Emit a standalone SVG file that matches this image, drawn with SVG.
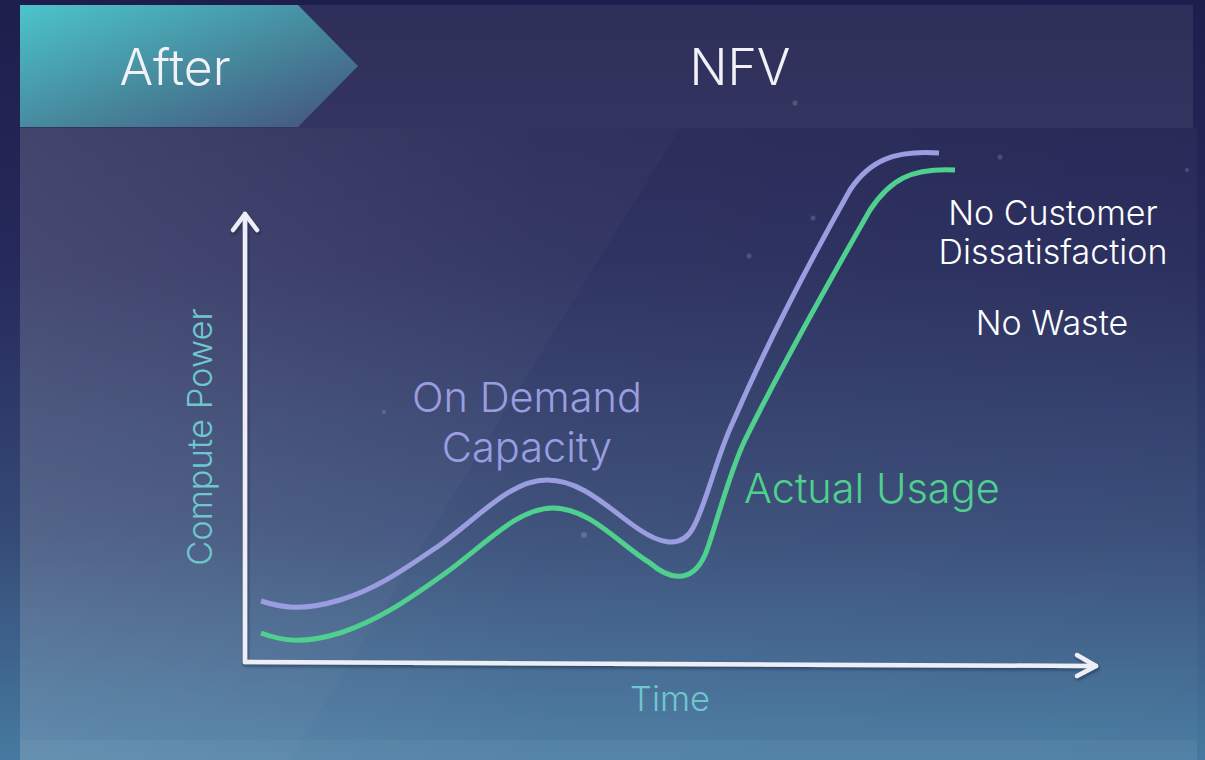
<svg xmlns="http://www.w3.org/2000/svg" width="1205" height="760" viewBox="0 0 1205 760">
  <defs>
    <linearGradient id="bg" x1="0" y1="0" x2="0" y2="1">
      <stop offset="0" stop-color="#1d1e4c"/>
      <stop offset="0.35" stop-color="#262a5a"/>
      <stop offset="0.7" stop-color="#354a76"/>
      <stop offset="1" stop-color="#467aa0"/>
    </linearGradient>
    <linearGradient id="panelSheen" x1="0" y1="0" x2="1" y2="0">
      <stop offset="0" stop-color="#ffffff" stop-opacity="0.13"/>
      <stop offset="0.45" stop-color="#ffffff" stop-opacity="0.05"/>
      <stop offset="1" stop-color="#ffffff" stop-opacity="0.03"/>
    </linearGradient>
    <linearGradient id="tabFill" x1="0" y1="0" x2="1" y2="1">
      <stop offset="0" stop-color="#4cc4cb"/>
      <stop offset="0.55" stop-color="#46869b"/>
      <stop offset="1" stop-color="#44527b"/>
    </linearGradient>
    <filter id="soft" x="-10%" y="-10%" width="120%" height="120%">
      <feDropShadow dx="1" dy="2" stdDeviation="1.5" flood-color="#10122e" flood-opacity="0.45"/>
    </filter>
    <style>
      .lbl { font-family: Inter, "Liberation Sans", sans-serif; font-weight: 300; }
      .head { fill: #f1f1f7; font-size: 50px; }
      .axis { fill: none; stroke: #eeeef6; stroke-width: 4.5; stroke-linecap: round; stroke-linejoin: round; }
      .axisLbl { fill: #6ec7cd; font-size: 34.5px; }
      .note { fill: #ffffff; font-size: 34px; }
      .big { font-size: 41.5px; }
      .cap { fill: none; stroke: #9a9de0; stroke-width: 5; stroke-linecap: butt; }
      .use { fill: none; stroke: #4fd08e; stroke-width: 5; stroke-linecap: butt; }
    </style>
  </defs>

  <!-- backdrop -->
  <rect x="0" y="0" width="1205" height="760" fill="url(#bg)"/>
  <rect x="20" y="128" width="1177" height="632" fill="url(#panelSheen)"/>
  <polygon points="20,128 680,128 290,760 20,760" fill="#ffffff" opacity="0.025"/>
  <rect x="20" y="740" width="1177" height="20" fill="#ffffff" opacity="0.04"/>
  <rect x="20" y="5" width="1173" height="123" fill="#ffffff" opacity="0.08"/>

  <!-- faint stars -->
  <g fill="#ffffff" opacity="0.16">
    <circle cx="795" cy="103" r="2.5"/>
    <circle cx="1000" cy="157" r="2.5"/>
    <circle cx="813" cy="218" r="2.5"/>
    <circle cx="749" cy="256" r="2.5"/>
    <circle cx="584" cy="535" r="3"/>
    <circle cx="384" cy="412" r="2"/>
    <circle cx="1187" cy="170" r="2"/>
  </g>

  <!-- header -->
  <g id="tab-after">
    <polygon points="20,5 298,5 358,66 298,127 20,127" fill="url(#tabFill)"/>
    <text class="lbl head" x="175" y="85" text-anchor="middle">After</text>
  </g>
  <g id="title-nfv">
    <text class="lbl head" x="740" y="85" text-anchor="middle">NFV</text>
  </g>

  <!-- chart axes -->
  <g id="axes" filter="url(#soft)">
    <path class="axis" d="M245,662 L245,214"/>
    <path class="axis" d="M233,230 L245,214 L257,230"/>
    <path class="axis" d="M245,662 L1096,666"/>
    <path class="axis" d="M1077,655 L1096,666 L1077,676"/>
  </g>
  <g id="y-label">
    <text class="lbl axisLbl" transform="translate(212,437) rotate(-90)" text-anchor="middle">Compute Power</text>
  </g>
  <g id="x-label">
    <text class="lbl axisLbl" x="670" y="711" text-anchor="middle">Time</text>
  </g>

  <!-- curves -->
  <g id="connectors">
    <path id="capacity-curve" class="cap" d="M261,601 C280,607 300,612 340,600 C380,588 410,565 440,545 C478,518 510,480 547,480 C584,480 612,512 640,530 C655,540 680,552 693,528 C706,505 716,458 733,422 C762,355 805,270 850,190 C870,160 895,150 939,153"/>
    <path id="usage-curve" class="use" d="M261,633 C280,640 300,645 340,633 C380,620 410,598 440,577 C480,550 515,508 553,508 C590,508 620,545 650,563 C665,576 690,588 705,555 C712,540 728,475 745,440 C777,375 830,280 870,210 C890,180 910,168 955,170"/>
  </g>

  <g id="capacity-label">
    <text class="lbl big" x="527" y="412" text-anchor="middle" fill="#9a9de0">On Demand</text>
    <text class="lbl big" x="527" y="462" text-anchor="middle" fill="#9a9de0">Capacity</text>
  </g>
  <g id="usage-label">
    <text class="lbl big" x="744" y="503" fill="#4fd08e">Actual Usage</text>
  </g>
  <g id="outcome-notes">
    <text class="lbl note" x="1053" y="225" text-anchor="middle">No Customer</text>
    <text class="lbl note" x="1053" y="264" text-anchor="middle">Dissatisfaction</text>
    <text class="lbl note" x="1052" y="335" text-anchor="middle">No Waste</text>
  </g>
</svg>
